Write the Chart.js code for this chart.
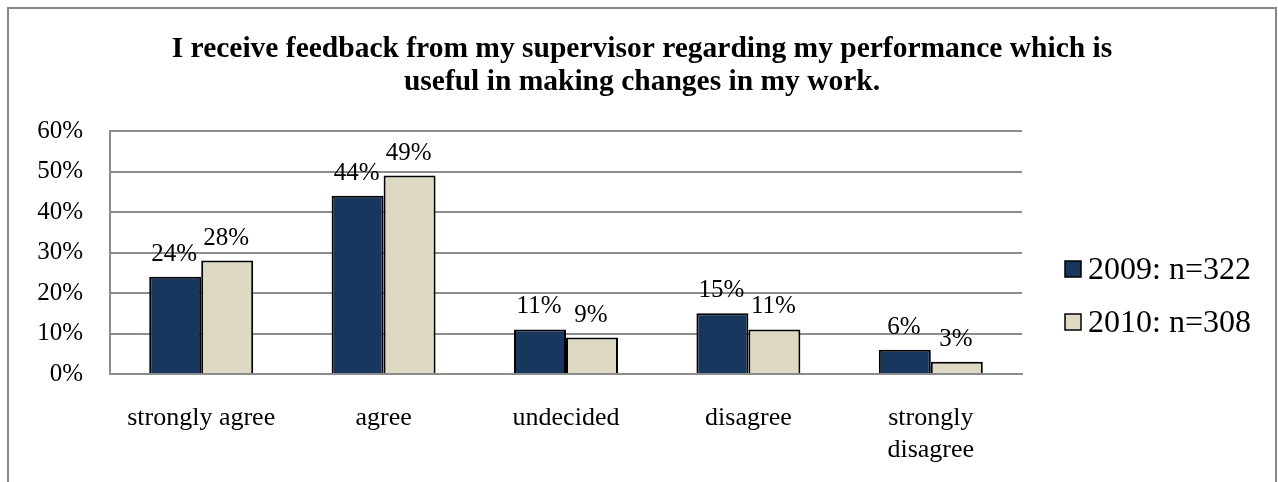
<!DOCTYPE html>
<html>
<head>
<meta charset="utf-8">
<script src="https://cdn.jsdelivr.net/npm/chart.js@4"></script>
<style>
  html, body { margin: 0; padding: 0; background: #fff; overflow: hidden; }
  #wrap { position: relative; width: 1278px; height: 482px; }
  #frame { position: absolute; left: 7px; top: 7px; width: 1266px; height: 600px; border: 2px solid #878787; }
  #chart { position: absolute; left: 0; top: 0; }
</style>
</head>
<body>
<div id="wrap">
  <div id="frame"></div>
  <canvas id="chart" width="1278" height="482"></canvas>
</div>
<script>
  const categories = ["strongly agree", "agree", "undecided", "disagree", ["strongly", "disagree"]];
  const values2009 = [24, 44, 11, 15, 6];
  const values2010 = [28, 49, 9, 11, 3];
  const seriesNames = ["2009: n=322", "2010: n=308"];
  const titleLines = [
    "I receive feedback from my supervisor regarding my performance which is",
    "useful in making changes in my work."
  ];

  const serif = "'Liberation Serif', 'Times New Roman', serif";
  Chart.defaults.color = "#000";
  Chart.defaults.font.family = serif;

  // title centred on the whole frame, not on the plot
  const frameTitle = {
    id: "frameTitle",
    afterDraw(chart) {
      const ctx = chart.ctx;
      ctx.save();
      ctx.font = "bold 29.5px " + serif;
      ctx.fillStyle = "#000";
      ctx.textAlign = "center";
      ctx.textBaseline = "alphabetic";
      titleLines.forEach((line, i) => ctx.fillText(line, 642, 57 + i * 33));
      ctx.restore();
    }
  };

  // value labels above each bar
  const barLabels = {
    id: "barLabels",
    afterDatasetsDraw(chart) {
      const ctx = chart.ctx;
      ctx.save();
      ctx.font = "25px " + serif;
      ctx.fillStyle = "#000";
      ctx.textAlign = "center";
      ctx.textBaseline = "alphabetic";
      chart.data.datasets.forEach((ds, i) => {
        chart.getDatasetMeta(i).data.forEach((bar, j) => {
          ctx.fillText(ds.data[j] + "%", bar.x - 1, bar.y - 16);
        });
      });
      ctx.restore();
    }
  };

  // legend on the right, Excel style
  const sideLegend = {
    id: "sideLegend",
    afterDraw(chart) {
      const ctx = chart.ctx;
      ctx.save();
      ctx.font = "32px " + serif;
      ctx.textBaseline = "alphabetic";
      chart.data.datasets.forEach((ds, i) => {
        const y = 269 + i * 53;
        ctx.fillStyle = ds.backgroundColor;
        ctx.fillRect(1065, y - 8, 16, 16);
        ctx.strokeStyle = "#000";
        ctx.lineWidth = 1.5;
        ctx.strokeRect(1065, y - 8, 16, 16);
        ctx.fillStyle = "#000";
        ctx.fillText(ds.label, 1088, y + 10);
      });
      ctx.restore();
    }
  };

  new Chart(document.getElementById("chart"), {
    type: "bar",
    data: {
      labels: categories,
      datasets: [{
        label: seriesNames[0],
        data: values2009,
        backgroundColor: "#17375E",
        borderColor: "#000",
        borderWidth: 2,
      }, {
        label: seriesNames[1],
        data: values2010,
        backgroundColor: "#DDD9C3",
        borderColor: "#000",
        borderWidth: 2,
      }],
    },
    options: {
      responsive: false,
      animation: false,
      categoryPercentage: 0.57,
      barPercentage: 1.0,
      layout: {
        padding: { left: 37, right: 256, top: 131, bottom: 0 },
      },
      plugins: {
        legend: { display: false },
        tooltip: { enabled: false },
        title: { display: false },
      },
      scales: {
        x: {
          grid: { display: false, drawTicks: false },
          border: { color: "#8c8c8c", width: 2 },
          ticks: { font: { size: 26 }, padding: 29, maxRotation: 0 },
          afterFit(scale) {
            scale.height = 108;
            scale.paddingLeft = 0;
            scale.paddingRight = 0;
          },
        },
        y: {
          min: 0,
          max: 60,
          grid: { color: "#8c8c8c", lineWidth: 2, drawTicks: false },
          border: { color: "#8c8c8c", width: 2 },
          ticks: {
            stepSize: 10,
            padding: 27,
            font: { size: 25 },
            callback: (v) => v + "%",
          },
          afterFit(scale) {
            scale.width = 73;
          },
        },
      },
    },
    plugins: [barLabels, sideLegend, frameTitle],
  });
</script>
</body>
</html>
